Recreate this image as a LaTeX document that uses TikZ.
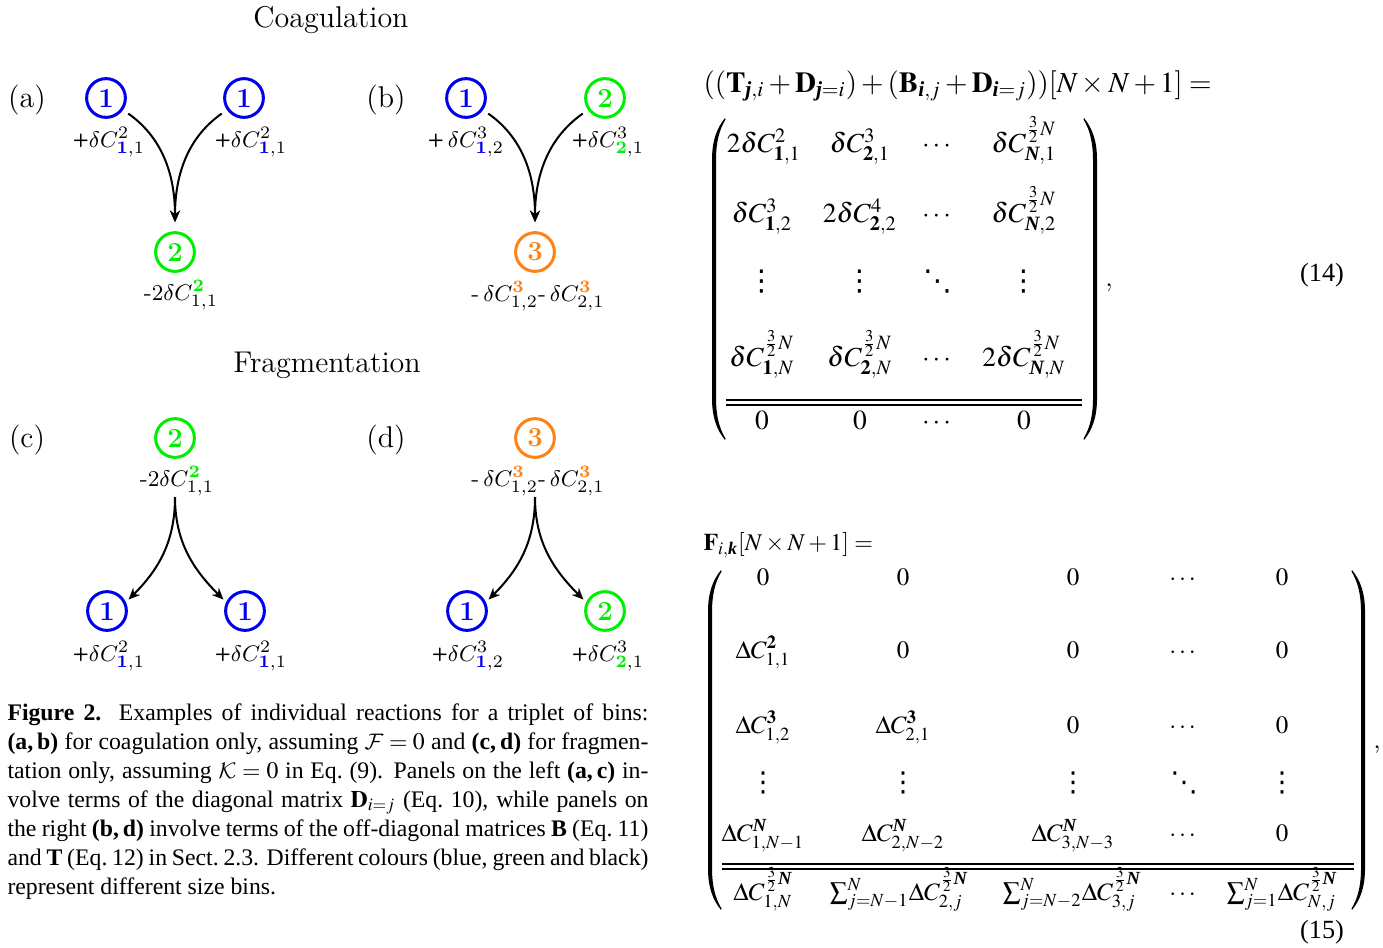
\documentclass[tikz,border=0pt]{standalone}
\usepackage{amsmath}
\usepackage{mathptmx}
\usepackage[no-math]{fontspec}
\newfontfamily\tnrfont{Liberation Serif}
\newfontfamily\dvsfont{DejaVu Sans}
\usetikzlibrary{arrows.meta}
\DeclareMathVersion{cmv}
\SetSymbolFont{operators}{cmv}{OT1}{cmr}{m}{n}
\SetSymbolFont{letters}{cmv}{OML}{cmm}{m}{it}
\SetSymbolFont{symbols}{cmv}{OMS}{cmsy}{m}{n}
\SetSymbolFont{largesymbols}{cmv}{OMX}{cmex}{m}{n}
\SetMathAlphabet{\mathbf}{cmv}{OT1}{cmr}{bx}{n}
\DeclareMathAlphabet{\mycal}{OMS}{cmsy}{m}{n}
\definecolor{binblue}{RGB}{0,0,240}
\definecolor{bingreen}{RGB}{0,238,0}
\definecolor{binorange}{RGB}{255,130,20}
\newcommand{\mybj}{\text{\tnrfont\bfseries\itshape j}}
\newcommand{\mybi}{\text{\tnrfont\bfseries\itshape i}}
\newcommand{\mybk}{\text{\tnrfont\bfseries\itshape k}}
\newcommand{\mybN}{\text{\tnrfont\bfseries\itshape N}}
\newcommand{\mypl}{\raisebox{0.25ex}{\fontsize{7.5}{8}\selectfont\sffamily\bfseries +}}
\newcommand{\cb}[1]{{\color{binblue}\mathbf{#1}}}
\newcommand{\cg}[1]{{\color{bingreen}\mathbf{#1}}}
\newcommand{\co}[1]{{\color{binorange}\mathbf{#1}}}
\newcommand{\thN}{\frac{3}{2}N}
\begin{document}
\begin{tikzpicture}[x=0.4pt,y=0.4pt,
  ttl/.style={font=\fontsize{12}{14}\selectfont, inner sep=0pt},
  plab/.style={font=\fontsize{12}{14}\selectfont, inner sep=0pt},
  bin/.style={circle, draw=#1, text=#1, line width=1.2pt, minimum size=15.5pt, inner sep=0pt, font=\fontsize{11}{12}\selectfont\bfseries},
  lab/.style={font=\mathversion{cmv}\fontsize{9.5}{11}\selectfont, inner sep=0pt},
  arr/.style={-{Stealth[length=4.6pt,width=4pt]}, line width=0.8pt},
  hdr/.style={anchor=base west, inner sep=0pt, font=\fontsize{11.6}{13}\selectfont},
  hdrb/.style={anchor=base west, inner sep=0pt, font=\fontsize{9.6}{12}\selectfont},
  ea/.style={anchor=base, inner sep=0pt, font=\fontsize{11}{13}\selectfont},
  eac/.style={anchor=center, inner sep=0pt, font=\dvsfont\fontsize{11.5}{13}\selectfont},
  eb/.style={anchor=base, inner sep=0pt, font=\fontsize{10}{12}\selectfont},
  ebc/.style={anchor=center, inner sep=0pt, font=\dvsfont\fontsize{11}{12}\selectfont},
  rul/.style={line width=0.45pt},
  eqn/.style={inner sep=0pt, font=\tnrfont\fontsize{10.5}{12}\selectfont}
]
\useasboundingbox (0,0) rectangle (1383,-947);

% titles
\node[ttl] (coag) at (331,-20) {Coagulation};
\node[ttl] (frag) at (327,-365) {Fragmentation};
\node[plab] (pa) at (27,-100) {(a)};
\node[plab] (pb) at (386,-100) {(b)};
\node[plab] (pc) at (27,-440) {(c)};
\node[plab] (pd) at (386,-440) {(d)};

% panel (a)
\node[bin=binblue] (a1) at (106,-98) {1};
\node[bin=binblue] (a2) at (244,-98) {1};
\node[bin=bingreen] (a3) at (175,-252) {2};
\node[lab] (la1) at (109,-142) {\mypl$\delta C^{2}_{\cb{1},1}$};
\node[lab] (la2) at (251,-142) {\mypl$\delta C^{2}_{\cb{1},1}$};
\node[lab] (la3) at (181,-295) {-$2\delta C^{\cg{2}}_{1,1}$};
\draw[arr, shorten <=2.5pt, shorten >=3.6pt] (a1.-35) to[out=-35,in=90] (a3.north);
\draw[arr, shorten <=2.5pt, shorten >=3.6pt] (a2.215) to[out=215,in=90] (a3.north);

% panel (b)
\node[bin=binblue] (b1) at (466,-98) {1};
\node[bin=bingreen] (b2) at (605,-98) {2};
\node[bin=binorange] (b3) at (535,-252) {3};
\node[lab] (lb1) at (466,-142) {\mypl\,$\delta C^{3}_{\cb{1},2}$};
\node[lab] (lb2) at (608,-142) {\mypl$\delta C^{3}_{\cg{2},1}$};
\node[lab] (lb3) at (538,-296) {-\,$\delta C^{\co{3}}_{1,2}$-\,$\delta C^{\co{3}}_{2,1}$};
\draw[arr, shorten <=2.5pt, shorten >=3.6pt] (b1.-35) to[out=-35,in=90] (b3.north);
\draw[arr, shorten <=2.5pt, shorten >=3.6pt] (b2.215) to[out=215,in=90] (b3.north);

% panel (c)
\node[bin=bingreen] (c3) at (175,-438) {2};
\node[lab] (lc3) at (177,-481) {-$2\delta C^{\cg{2}}_{1,1}$};
\node[bin=binblue] (c1) at (107,-611) {1};
\node[bin=binblue] (c2) at (245,-611) {1};
\node[lab] (lc1) at (109,-656) {\mypl$\delta C^{2}_{\cb{1},1}$};
\node[lab] (lc2) at (251,-656) {\mypl$\delta C^{2}_{\cb{1},1}$};
\coordinate (cs) at (175,-497);
\draw[arr, shorten >=1.5pt] (cs) to[out=-90,in=45] (c1.25);
\draw[arr, shorten >=1.5pt] (cs) to[out=-90,in=135] (c2.155);

% panel (d)
\node[bin=binorange] (d3) at (535,-438) {3};
\node[lab] (ld3) at (538,-481) {-\,$\delta C^{\co{3}}_{1,2}$-\,$\delta C^{\co{3}}_{2,1}$};
\node[bin=binblue] (d1) at (467,-611) {1};
\node[bin=bingreen] (d2) at (605,-611) {2};
\node[lab] (ld1) at (468,-656) {\mypl$\delta C^{3}_{\cb{1},2}$};
\node[lab] (ld2) at (608,-656) {\mypl$\delta C^{3}_{\cg{2},1}$};
\coordinate (ds) at (535,-497);
\draw[arr, shorten >=1.5pt] (ds) to[out=-90,in=45] (d1.25);
\draw[arr, shorten >=1.5pt] (ds) to[out=-90,in=135] (d2.155);

% caption
\node[anchor=north west, inner sep=0pt, text width=256.4pt, align=justify,
      font=\tnrfont\fontsize{9.5}{11.6}\selectfont] (cap) at (7,-703) {%
\textbf{Figure 2.} Examples of individual reactions for a triplet of bins:\linebreak
\textbf{(a,\,b)} for coagulation only, assuming $\mycal{F}=0$ and \textbf{(c,\,d)} for fragmen-\linebreak
tation only, assuming $\mycal{K}=0$ in Eq.~(9). Panels on the left \textbf{(a,\,c)} in-\linebreak
volve terms of the diagonal matrix $\mathbf{D}_{i=j}$ (Eq.~10), while panels on\linebreak
the right \textbf{(b,\,d)} involve terms of the off-diagonal matrices \textbf{B} (Eq.~11)\linebreak
and \textbf{T} (Eq.~12) in Sect.~2.3. Different colours (blue, green and black)\linebreak
represent different size bins.};

% equation (14)
\node[hdr] (h14) at (703,-92) {$((\mathbf{T}_{\mybj,i}+\mathbf{D}_{\mybj=i})+(\mathbf{B}_{\mybi,j}+\mathbf{D}_{\mybi=j}))[N\times N+1]=$};
% parentheses of (14)
\fill (725,-118) .. controls (717,-128) and (712,-140) .. (712,-160) -- (712,-398)
  .. controls (712,-418) and (717,-430) .. (725,-440) -- (725.5,-438.5)
  .. controls (719,-428) and (716,-415) .. (716,-398) -- (716,-160)
  .. controls (716,-143) and (719,-130) .. (725.5,-119.5) -- cycle;
\fill (1084,-118) .. controls (1092,-128) and (1097,-140) .. (1097,-160) -- (1097,-398)
  .. controls (1097,-418) and (1092,-430) .. (1084,-440) -- (1083.5,-438.5)
  .. controls (1090,-428) and (1093,-415) .. (1093,-398) -- (1093,-160)
  .. controls (1093,-143) and (1090,-130) .. (1083.5,-119.5) -- cycle;
\node[ea] (m11) at (764,-152) {$2\delta C^{2}_{\mathbf{1},1}$};
\node[ea] (m12) at (860,-152) {$\delta C^{3}_{\mathbf{2},1}$};
\node[ea] (m13) at (938,-152) {$\cdots$};
\node[ea] (m14) at (1024,-152) {$\delta C^{\thN}_{\mybN,1}$};
\node[ea] (m21) at (762,-222) {$\delta C^{3}_{\mathbf{1},2}$};
\node[ea] (m22) at (860,-222) {$2\delta C^{4}_{\mathbf{2},2}$};
\node[ea] (m23) at (938,-222) {$\cdots$};
\node[ea] (m24) at (1024,-222) {$\delta C^{\thN}_{\mybN,2}$};
\node[eac] (m31) at (762,-282) {⋮};
\node[eac] (m32) at (860,-282) {⋮};
\node[eac] (m33) at (938,-282) {⋱};
\node[eac] (m34) at (1024,-282) {⋮};
\node[ea] (m41) at (762,-366) {$\delta C^{\thN}_{\mathbf{1},N}$};
\node[ea] (m42) at (860,-366) {$\delta C^{\thN}_{\mathbf{2},N}$};
\node[ea] (m43) at (938,-366) {$\cdots$};
\node[ea] (m44) at (1024,-366) {$2\delta C^{\thN}_{\mybN,N}$};
\draw[rul] (726,-400) -- (1082,-400);
\draw[rul] (726,-405) -- (1082,-405);
\node[ea] (m51) at (762,-429) {$0$};
\node[ea] (m52) at (860,-429) {$0$};
\node[ea] (m53) at (938,-429) {$\cdots$};
\node[ea] (m54) at (1024,-429) {$0$};
\node[ea] (cm14) at (1109,-286) {,};
\node[eqn] (n14) at (1322,-275) {(14)};

% equation (15)
\node[hdrb] (h15) at (703,-550) {$\mathbf{F}_{i,\mybk}[N\times N+1]=$};
% parentheses of (15)
\fill (721,-570) .. controls (713,-580) and (708,-592) .. (708,-612) -- (708,-868)
  .. controls (708,-888) and (713,-900) .. (721,-910) -- (721.5,-908.5)
  .. controls (715,-898) and (712,-885) .. (712,-868) -- (712,-612)
  .. controls (712,-595) and (715,-582) .. (721.5,-571.5) -- cycle;
\fill (1352,-570) .. controls (1360,-580) and (1365,-592) .. (1365,-612) -- (1365,-868)
  .. controls (1365,-888) and (1360,-900) .. (1352,-910) -- (1351.5,-908.5)
  .. controls (1358,-898) and (1361,-885) .. (1361,-868) -- (1361,-612)
  .. controls (1361,-595) and (1358,-582) .. (1351.5,-571.5) -- cycle;
\node[eb] (f11) at (763,-585) {$0$};
\node[eb] (f12) at (903,-585) {$0$};
\node[eb] (f13) at (1073,-585) {$0$};
\node[eb] (f14) at (1184,-585) {$\cdots$};
\node[eb] (f15) at (1282,-585) {$0$};
\node[eb] (f21) at (763,-658) {$\Delta C^{\mathbf{2}}_{1,1}$};
\node[eb] (f22) at (903,-658) {$0$};
\node[eb] (f23) at (1073,-658) {$0$};
\node[eb] (f24) at (1184,-658) {$\cdots$};
\node[eb] (f25) at (1282,-658) {$0$};
\node[eb] (f31) at (763,-733) {$\Delta C^{\mathbf{3}}_{1,2}$};
\node[eb] (f32) at (903,-733) {$\Delta C^{\mathbf{3}}_{2,1}$};
\node[eb] (f33) at (1073,-733) {$0$};
\node[eb] (f34) at (1184,-733) {$\cdots$};
\node[eb] (f35) at (1282,-733) {$0$};
\node[ebc] (f41) at (763,-783) {⋮};
\node[ebc] (f42) at (903,-783) {⋮};
\node[ebc] (f43) at (1073,-783) {⋮};
\node[ebc] (f44) at (1184,-783) {⋱};
\node[ebc] (f45) at (1282,-783) {⋮};
\node[eb] (f51) at (763,-841) {$\Delta C^{\mybN}_{1,N-1}$};
\node[eb] (f52) at (903,-841) {$\Delta C^{\mybN}_{2,N-2}$};
\node[eb] (f53) at (1073,-841) {$\Delta C^{\mybN}_{3,N-3}$};
\node[eb] (f54) at (1184,-841) {$\cdots$};
\node[eb] (f55) at (1282,-841) {$0$};
\draw[rul] (722,-864) -- (1354,-864);
\draw[rul] (722,-869) -- (1354,-869);
\node[eb] (f61) at (763,-900) {$\Delta C^{\frac{3}{2}\mybN}_{1,N}$};
\node[eb] (f62) at (899,-900) {$\sum^{N}_{j=N-1}\!\Delta C^{\frac{3}{2}\mybN}_{2,j}$};
\node[eb] (f63) at (1072,-900) {$\sum^{N}_{j=N-2}\!\Delta C^{\frac{3}{2}\mybN}_{3,j}$};
\node[eb] (f64) at (1184,-900) {$\cdots$};
\node[eb] (f65) at (1282,-900) {$\sum^{N}_{j=1}\!\Delta C^{\frac{3}{2}\mybN}_{N,j}$};
\node[eb] (cm15) at (1377,-748) {,};
\node[eqn] (n15) at (1322,-932) {(15)};
\end{tikzpicture}
\end{document}
